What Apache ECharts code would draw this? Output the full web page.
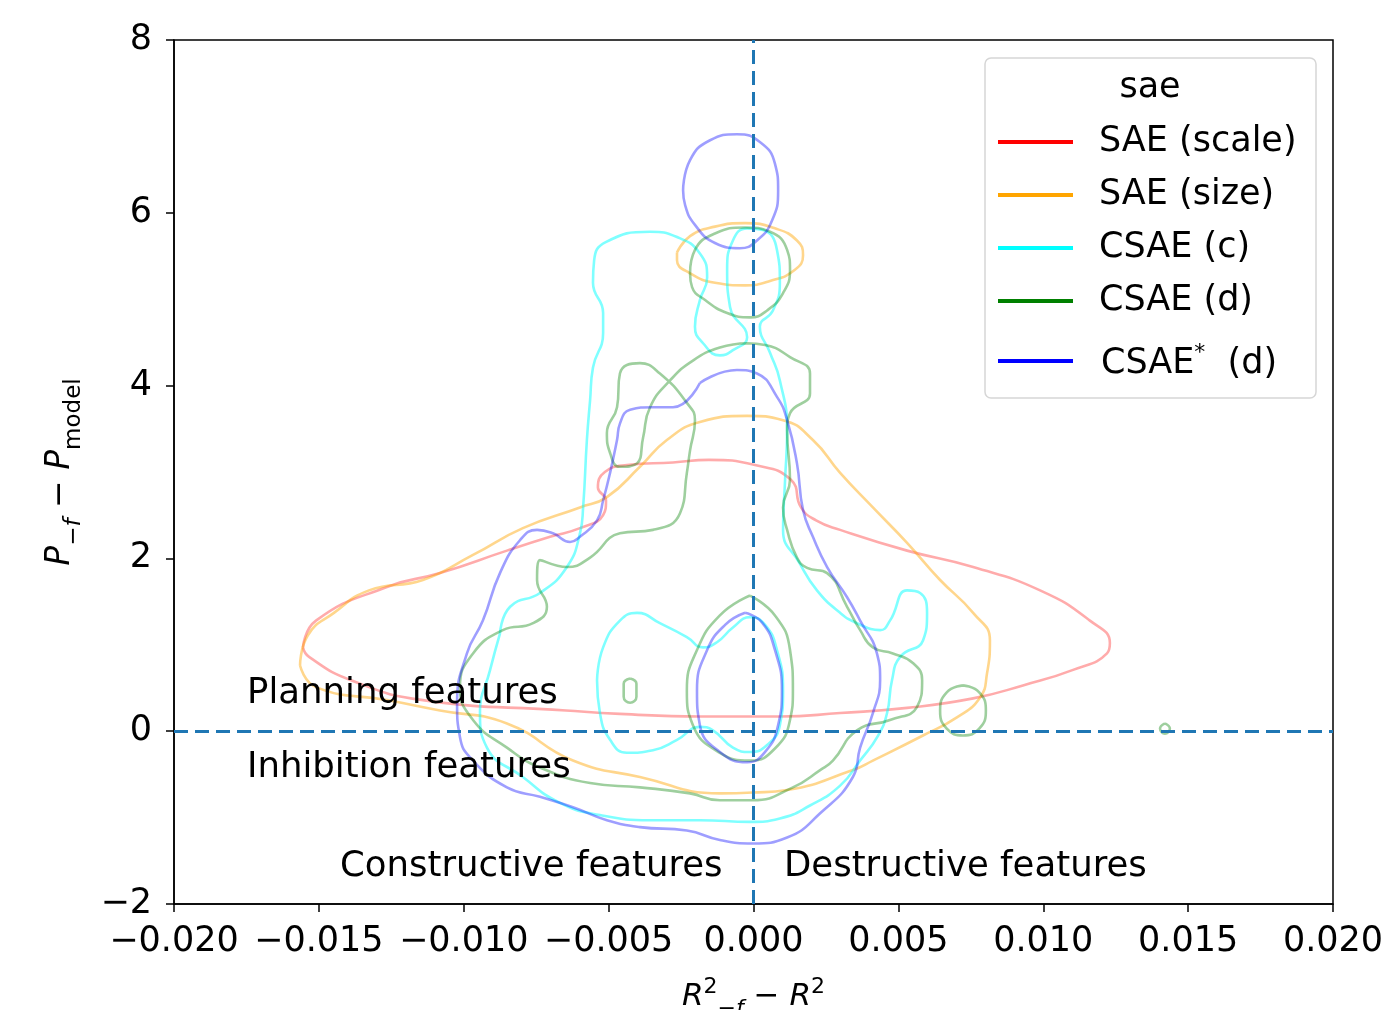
<!DOCTYPE html>
<html>
<head>
<meta charset="utf-8">
<script src="https://cdn.jsdelivr.net/npm/echarts@6/dist/echarts.min.js"></script>
<style>html,body{margin:0;padding:0;background:#fff}#c{width:1398px;height:1010px}</style>
</head>
<body>
<div id="c"></div>
<script>
// ---- data: KDE contour rings, [x = R2_-f - R2, y = P_-f - P_model] ----
const groupNames = ['SAE (scale)', 'SAE (size)', 'CSAE (c)', 'CSAE (d)', 'CSAE* (d)'];

const saeScale = [
  [[-15.55e-3,0.97],[-15.10e-3,1.28],[-12.65e-3,1.67],[-10.82e-3,1.83],[-8.51e-3,2.09],[-7.02e-3,2.25],[-5.99e-3,2.35],[-5.19e-3,2.50],[-5.09e-3,2.67],[-5.37e-3,2.82],[-5.13e-3,3.00],[-4.37e-3,3.08],[-2.78e-3,3.11],[-1.54e-3,3.14],[0.05e-3,3.08],[1.29e-3,2.91],[1.64e-3,2.59],[2.16e-3,2.44],[2.99e-3,2.33],[5.30e-3,2.09],[7.58e-3,1.90],[9.89e-3,1.63],[11.61e-3,1.28],[12.30e-3,1.02],[12.20e-3,0.90],[11.03e-3,0.71],[9.30e-3,0.53],[7.58e-3,0.38],[5.30e-3,0.27],[2.99e-3,0.21],[0.91e-3,0.17],[-1.85e-3,0.17],[-4.61e-3,0.20],[-6.47e-3,0.24],[-11.41e-3,0.36],[-13.89e-3,0.59],[-15.34e-3,0.86]]
];

const saeSize = [
  [[-15.65e-3,0.76],[-15.38e-3,1.11],[-14.48e-3,1.37],[-13.27e-3,1.63],[-11.41e-3,1.75],[-9.68e-3,2.04],[-7.96e-3,2.35],[-5.99e-3,2.59],[-5.06e-3,2.71],[-3.92e-3,3.06],[-2.99e-3,3.37],[-1.85e-3,3.58],[-0.22e-3,3.65],[1.02e-3,3.60],[2.05e-3,3.37],[2.99e-3,2.99],[4.12e-3,2.59],[5.30e-3,2.18],[6.44e-3,1.75],[7.58e-3,1.37],[8.16e-3,1.05],[8.06e-3,0.67],[7.82e-3,0.39],[7.02e-3,0.16],[5.85e-3,-0.05],[4.12e-3,-0.34],[3.43e-3,-0.45],[1.16e-3,-0.68],[-0.02e-3,-0.71],[-1.16e-3,-0.72],[-3.92e-3,-0.53],[-6.23e-3,-0.34],[-8.51e-3,0.09],[-10.82e-3,0.24],[-12.65e-3,0.36],[-15.10e-3,0.51]],
  [[-2.64e-3,5.54],[-2.19e-3,5.73],[-1.33e-3,5.84],[-0.29e-3,5.88],[0.74e-3,5.82],[1.50e-3,5.68],[1.71e-3,5.51],[1.43e-3,5.34],[0.57e-3,5.21],[-0.29e-3,5.16],[-1.33e-3,5.19],[-2.19e-3,5.30],[-2.64e-3,5.45]]
];

const csaeC = [
  [[-8.75e-3,1.13],[-8.40e-3,1.44],[-7.37e-3,1.60],[-6.44e-3,1.90],[-5.99e-3,2.29],[-5.88e-3,2.59],[-5.75e-3,3.37],[-5.64e-3,3.83],[-5.54e-3,4.21],[-5.19e-3,4.61],[-5.19e-3,4.84],[-5.54e-3,5.19],[-5.50e-3,5.45],[-5.10e-3,5.66],[-3.57e-3,5.78],[-2.64e-3,5.72],[-1.85e-3,5.53],[-1.60e-3,5.25],[-1.85e-3,4.99],[-2.02e-3,4.68],[-1.74e-3,4.49],[-1.16e-3,4.35],[-0.71e-3,4.41],[-0.22e-3,4.56],[-0.81e-3,4.91],[-0.91e-3,5.34],[-0.71e-3,5.68],[-0.22e-3,5.82],[0.33e-3,5.80],[0.81e-3,5.57],[0.91e-3,5.19],[0.67e-3,4.87],[0.22e-3,4.68],[0.57e-3,4.38],[0.91e-3,4.06],[1.16e-3,3.48],[1.09e-3,2.91],[1.02e-3,2.33],[1.60e-3,1.94],[2.19e-3,1.63],[2.99e-3,1.37],[3.57e-3,1.25],[4.37e-3,1.17],[4.71e-3,1.28],[5.30e-3,1.63],[5.75e-3,1.60],[5.99e-3,1.37],[5.85e-3,1.05],[5.06e-3,0.86],[4.78e-3,0.59],[4.61e-3,0.21],[4.30e-3,-0.05],[3.68e-3,-0.34],[2.99e-3,-0.63],[1.95e-3,-0.86],[0.91e-3,-1.01],[-0.12e-3,-1.05],[-1.85e-3,-1.03],[-3.57e-3,-1.03],[-5.30e-3,-0.97],[-6.68e-3,-0.83],[-7.96e-3,-0.53],[-9.20e-3,-0.19],[-9.44e-3,0.21],[-9.09e-3,0.71]],
  [[-5.40e-3,0.59],[-5.19e-3,0.97],[-4.61e-3,1.28],[-4.02e-3,1.37],[-3.23e-3,1.25],[-2.30e-3,1.09],[-1.74e-3,0.97],[-1.26e-3,1.03],[-0.71e-3,1.20],[-0.12e-3,1.32],[0.40e-3,1.23],[0.81e-3,0.94],[1.02e-3,0.47],[0.91e-3,0.07],[0.47e-3,-0.16],[-0.12e-3,-0.24],[-0.71e-3,-0.19],[-1.40e-3,0.01],[-1.85e-3,0.05],[-2.64e-3,-0.10],[-3.47e-3,-0.22],[-4.37e-3,-0.25],[-4.95e-3,-0.10],[-5.30e-3,0.21]]
];

const csaeD = [
  [[-2.19e-3,5.30],[-2.02e-3,5.57],[-1.33e-3,5.76],[-0.29e-3,5.83],[0.57e-3,5.78],[1.16e-3,5.57],[1.26e-3,5.34],[1.02e-3,5.07],[0.47e-3,4.87],[-0.12e-3,4.79],[-0.91e-3,4.84],[-1.67e-3,4.99],[-2.12e-3,5.14]],
  [[-0.22e-3,4.49],[-1.16e-3,4.44],[-2.09e-3,4.29],[-2.88e-3,4.06],[-3.57e-3,3.75],[-3.81e-3,3.40],[-4.02e-3,3.10],[-4.61e-3,3.06],[-4.95e-3,3.22],[-5.06e-3,3.45],[-4.71e-3,3.75],[-4.61e-3,4.14],[-3.92e-3,4.26],[-3.23e-3,4.14],[-2.30e-3,3.80],[-2.02e-3,3.60],[-2.19e-3,3.25],[-2.30e-3,2.99],[-2.54e-3,2.52],[-3.47e-3,2.33],[-4.61e-3,2.29],[-5.64e-3,2.01],[-6.44e-3,1.90],[-7.37e-3,1.98],[-7.47e-3,1.75],[-7.13e-3,1.44],[-7.61e-3,1.25],[-8.65e-3,1.17],[-9.68e-3,0.90],[-10.13e-3,0.51],[-9.68e-3,0.13],[-8.51e-3,-0.19],[-7.37e-3,-0.42],[-5.64e-3,-0.60],[-3.92e-3,-0.65],[-2.19e-3,-0.72],[-1.16e-3,-0.80],[-0.02e-3,-0.80],[1.36e-3,-0.65],[2.30e-3,-0.45],[2.74e-3,-0.34],[3.57e-3,0.01],[4.71e-3,0.13],[5.64e-3,0.28],[5.82e-3,0.59],[5.50e-3,0.79],[4.81e-3,0.90],[4.12e-3,0.97],[3.68e-3,1.17],[3.23e-3,1.44],[2.54e-3,1.83],[1.85e-3,1.89],[1.50e-3,2.01],[1.16e-3,2.33],[1.02e-3,2.59],[1.26e-3,2.91],[1.16e-3,3.48],[1.26e-3,3.68],[1.95e-3,3.91],[1.95e-3,4.14],[1.26e-3,4.33],[0.40e-3,4.47]],
  [[-0.12e-3,1.57],[-1.16e-3,1.34],[-1.95e-3,0.94],[-2.30e-3,0.47],[-2.09e-3,0.07],[-1.16e-3,-0.25],[-0.12e-3,-0.34],[0.74e-3,-0.20],[1.26e-3,0.13],[1.36e-3,0.47],[1.26e-3,0.94],[0.74e-3,1.34]],
  [[-4.26e-3,0.61],[-4.04e-3,0.55],[-4.04e-3,0.40],[-4.26e-3,0.33],[-4.48e-3,0.40],[-4.48e-3,0.55]],
  [[7.23e-3,0.53],[7.79e-3,0.45],[8.02e-3,0.24],[7.79e-3,0.03],[7.23e-3,-0.05],[6.67e-3,0.03],[6.44e-3,0.24],[6.67e-3,0.45]],
  [[14.20e-3,0.09],[14.37e-3,0.03],[14.20e-3,-0.03],[14.03e-3,0.03]]
];

const csaeStarD = [
  [[-2.43e-3,6.26],[-2.19e-3,6.61],[-1.50e-3,6.84],[-0.57e-3,6.91],[0.22e-3,6.82],[0.74e-3,6.57],[0.85e-3,6.26],[0.64e-3,5.91],[0.12e-3,5.68],[-0.47e-3,5.59],[-1.33e-3,5.65],[-2.02e-3,5.86],[-2.36e-3,6.09]],
  [[-1.85e-3,4.03],[-0.57e-3,4.18],[0.12e-3,4.14],[0.81e-3,3.87],[1.16e-3,3.60],[1.50e-3,3.10],[1.71e-3,2.56],[2.05e-3,2.25],[2.54e-3,1.90],[3.23e-3,1.55],[3.68e-3,1.28],[4.26e-3,0.90],[4.37e-3,0.59],[4.12e-3,0.21],[3.68e-3,-0.19],[3.43e-3,-0.53],[2.30e-3,-0.95],[1.16e-3,-1.23],[-0.02e-3,-1.30],[-1.16e-3,-1.26],[-2.30e-3,-1.15],[-3.92e-3,-1.11],[-5.06e-3,-1.03],[-6.23e-3,-0.88],[-7.37e-3,-0.76],[-8.51e-3,-0.65],[-9.68e-3,-0.34],[-10.13e-3,-0.07],[-10.23e-3,0.32],[-9.89e-3,0.90],[-9.34e-3,1.28],[-8.75e-3,1.83],[-8.06e-3,2.21],[-7.47e-3,2.33],[-6.92e-3,2.29],[-6.33e-3,2.19],[-5.99e-3,2.25],[-5.40e-3,2.44],[-5.19e-3,2.67],[-4.95e-3,2.99],[-4.71e-3,3.37],[-4.61e-3,3.56],[-4.26e-3,3.72],[-3.47e-3,3.75],[-2.78e-3,3.75]],
  [[-0.29e-3,1.37],[-0.98e-3,1.23],[-1.60e-3,0.94],[-1.95e-3,0.47],[-1.85e-3,0.07],[-1.16e-3,-0.24],[-0.22e-3,-0.36],[0.40e-3,-0.24],[0.85e-3,0.07],[0.98e-3,0.47],[0.74e-3,0.94],[0.29e-3,1.26]]
];

const refX = 0;   // vertical dashed reference line
const refY = 0;   // horizontal dashed reference line
const xMin = -0.02, xMax = 0.02, xStep = 0.005;
const yMin = -2, yMax = 8, yStep = 2;

// ---- styling ----
const FONT = 'DejaVu Sans';
const groups = [
  {name: groupNames[0], rings: saeScale,  solid: '#ff0000', line: 'rgba(255,0,0,0.33)'},
  {name: groupNames[1], rings: saeSize,   solid: '#ffa500', line: 'rgba(255,165,0,0.45)'},
  {name: groupNames[2], rings: csaeC,     solid: '#00ffff', line: 'rgba(0,255,255,0.5)'},
  {name: groupNames[3], rings: csaeD,     solid: '#008000', line: 'rgba(0,128,0,0.38)'},
  {name: groupNames[4], rings: csaeStarD, solid: '#0000ff', line: 'rgba(0,0,255,0.38)'}
];

const series = [];
groups.forEach(g => {
  g.rings.forEach(r => {
    series.push({
      type: 'line', name: g.name, data: r.concat([r[0]]),
      smooth: 0.5, showSymbol: false, symbol: 'none', silent: true,
      itemStyle: {color: g.solid},
      lineStyle: {color: g.line, width: 2.6},
      z: 2
    });
  });
});
series.push({
  type: 'line', name: '_ref', data: [], silent: true, z: 5,
  markLine: {
    silent: true, symbol: ['none', 'none'], label: {show: false},
    lineStyle: {color: '#1f77b4', type: [14, 7], width: 3},
    data: [{xAxis: refX}, {yAxis: refY}]
  }
});

const minus = s => s.replace('-', '\u2212');
const chart = echarts.init(document.getElementById('c'), null, {renderer: 'canvas'});
chart.setOption({
  animation: false,
  backgroundColor: '#fff',
  grid: {left: 174, right: 65, top: 40, bottom: 106, show: true, borderColor: '#000', borderWidth: 1.5,
    containLabel: false, outerBoundsMode: 'none'},
  xAxis: {
    type: 'value', min: xMin, max: xMax, interval: xStep,
    axisLine: {show: true, onZero: false, lineStyle: {color: '#000', width: 1.5}},
    axisTick: {show: true, length: 8, lineStyle: {color: '#000', width: 1.5}},
    splitLine: {show: false},
    axisLabel: {fontSize: 35, fontFamily: FONT, color: '#000', margin: 20,
      formatter: v => minus(Number(v).toFixed(3))},
    name: '{i|R}{sp|2}{sb|\u2212f}{n| \u2212 }{i|R}{sp|2}',
    nameLocation: 'middle', nameGap: 72,
    nameTextStyle: {fontFamily: FONT, color: '#000', rich: {
      i: {fontStyle: 'italic', fontSize: 31, fontFamily: FONT, verticalAlign: 'bottom', padding: [0,0,8,0]},
      n: {fontSize: 31, fontFamily: FONT, verticalAlign: 'bottom', padding: [0,0,8,0]},
      sp: {fontSize: 22, fontFamily: FONT, verticalAlign: 'bottom', padding: [0,0,22,0]},
      sb: {fontStyle: 'italic', fontSize: 22, fontFamily: FONT, verticalAlign: 'bottom', padding: [0,0,0,0]}
    }}
  },
  yAxis: {
    type: 'value', min: yMin, max: yMax, interval: yStep,
    axisLine: {show: true, onZero: false, lineStyle: {color: '#000', width: 1.5}},
    axisTick: {show: true, length: 8, lineStyle: {color: '#000', width: 1.5}},
    splitLine: {show: false},
    axisLabel: {fontSize: 35, fontFamily: FONT, color: '#000', margin: 22,
      formatter: v => minus(String(v))},
    name: '{i|P}{sb|\u2212f}{n| \u2212 }{i|P}{sn|model}',
    nameLocation: 'middle', nameGap: 88, nameRotate: 90,
    nameTextStyle: {fontFamily: FONT, color: '#000', rich: {
      i: {fontStyle: 'italic', fontSize: 33, fontFamily: FONT, verticalAlign: 'bottom', padding: [0,0,9,0]},
      n: {fontSize: 33, fontFamily: FONT, verticalAlign: 'bottom', padding: [0,0,9,0]},
      sb: {fontStyle: 'italic', fontSize: 23, fontFamily: FONT, verticalAlign: 'bottom'},
      sn: {fontSize: 23, fontFamily: FONT, verticalAlign: 'bottom'}
    }}
  },
  legend: {
    orient: 'vertical', left: 998, top: 122, padding: 0, itemGap: 13,
    itemWidth: 75, itemHeight: 4, icon: 'rect', selectedMode: false, z: 10,
    textStyle: {fontSize: 35, fontFamily: FONT, color: '#000', lineHeight: 40, padding: [0,0,0,21],
      rich: {
        b: {fontSize: 35, fontFamily: FONT, color: '#000', verticalAlign: 'bottom', lineHeight: 40},
        s: {fontSize: 22, fontFamily: FONT, color: '#000', verticalAlign: 'bottom', padding: [0,0,17,0]}
      }},
    formatter: name => name === 'CSAE* (d)' ? '{b|CSAE}{s|*}{b|  (d)}' : name,
    data: groupNames.map((n, i) => i === 4
      ? {name: n, textStyle: {padding: [7,0,7,23]}}
      : {name: n})
  },
  graphic: [
    {type: 'rect', z: 9, shape: {x: 985, y: 58, width: 331, height: 340, r: 6},
      style: {fill: 'rgba(255,255,255,0.85)', stroke: '#d6d6d6', lineWidth: 1.5}},
    {type: 'text', z: 11, style: {text: 'sae', x: 1150, y: 88, fontSize: 35, fontFamily: FONT, fill: '#000', align: 'center', verticalAlign: 'middle'}},
    {type: 'text', z: 11, style: {text: 'Planning features', x: 247, y: 694, fontSize: 35.5, fontFamily: FONT, fill: '#000', align: 'left', verticalAlign: 'middle'}},
    {type: 'text', z: 11, style: {text: 'Inhibition features', x: 247, y: 768, fontSize: 35.5, fontFamily: FONT, fill: '#000', align: 'left', verticalAlign: 'middle'}},
    {type: 'text', z: 11, style: {text: 'Constructive features', x: 340, y: 867, fontSize: 35.5, fontFamily: FONT, fill: '#000', align: 'left', verticalAlign: 'middle'}},
    {type: 'text', z: 11, style: {text: 'Destructive features', x: 784, y: 867, fontSize: 35.5, fontFamily: FONT, fill: '#000', align: 'left', verticalAlign: 'middle'}}
  ],
  series: series
});
</script>
</body>
</html>
